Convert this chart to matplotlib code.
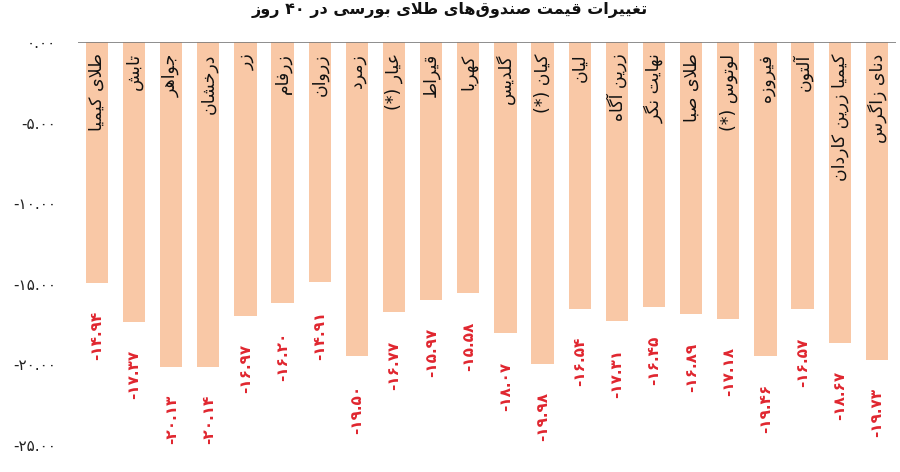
import re
import matplotlib
matplotlib.use("Agg")
import matplotlib.pyplot as plt

# fund names (as written in the chart) and 40-day price change, %
funds = ["طلای کیمیا", "تابش", "جواهر", "درخشان", "زر", "زرفام", "زروان", "زمرد",
         "عیار (*)", "قیراط", "کهربا", "گلدیس", "کیان (*)", "لیان", "زرین آگاه",
         "نهایت نگر", "طلای صبا", "لوتوس (*)", "فیروزه", "آلتون", "کیمیا زرین کاردان",
         "دنای زاگرس"]
changes = [-14.94, -17.37, -20.13, -20.14, -16.97, -16.20, -14.91, -19.50,
           -16.77, -15.97, -15.58, -18.07, -19.98, -16.54, -17.31,
           -16.45, -16.89, -17.18, -19.46, -16.57, -18.67, -19.73]
yticks = [0, -5, -10, -15, -20, -25]
title = "تغییرات قیمت صندوق‌های طلای بورسی در ۴۰ روز"

# --- tiny arabic/persian shaper (matplotlib does no shaping) ---
# letter: (isolated, final, initial, medial); right-joining letters have 2 forms
FORMS = {
    "ا": (0xFE8D, 0xFE8E), "آ": (0xFE81, 0xFE82), "د": (0xFEA9, 0xFEAA),
    "ذ": (0xFEAB, 0xFEAC), "ر": (0xFEAD, 0xFEAE), "ز": (0xFEAF, 0xFEB0),
    "ژ": (0xFB8A, 0xFB8B), "و": (0xFEED, 0xFEEE),
    "ب": (0xFE8F, 0xFE90, 0xFE91, 0xFE92), "پ": (0xFB56, 0xFB57, 0xFB58, 0xFB59),
    "ت": (0xFE95, 0xFE96, 0xFE97, 0xFE98), "ث": (0xFE99, 0xFE9A, 0xFE9B, 0xFE9C),
    "ج": (0xFE9D, 0xFE9E, 0xFE9F, 0xFEA0), "چ": (0xFB7A, 0xFB7B, 0xFB7C, 0xFB7D),
    "ح": (0xFEA1, 0xFEA2, 0xFEA3, 0xFEA4), "خ": (0xFEA5, 0xFEA6, 0xFEA7, 0xFEA8),
    "س": (0xFEB1, 0xFEB2, 0xFEB3, 0xFEB4), "ش": (0xFEB5, 0xFEB6, 0xFEB7, 0xFEB8),
    "ص": (0xFEB9, 0xFEBA, 0xFEBB, 0xFEBC), "ض": (0xFEBD, 0xFEBE, 0xFEBF, 0xFEC0),
    "ط": (0xFEC1, 0xFEC2, 0xFEC3, 0xFEC4), "ظ": (0xFEC5, 0xFEC6, 0xFEC7, 0xFEC8),
    "ع": (0xFEC9, 0xFECA, 0xFECB, 0xFECC), "غ": (0xFECD, 0xFECE, 0xFECF, 0xFED0),
    "ف": (0xFED1, 0xFED2, 0xFED3, 0xFED4), "ق": (0xFED5, 0xFED6, 0xFED7, 0xFED8),
    "ک": (0xFB8E, 0xFB8F, 0xFB90, 0xFB91), "گ": (0xFB92, 0xFB93, 0xFB94, 0xFB95),
    "ل": (0xFEDD, 0xFEDE, 0xFEDF, 0xFEE0), "م": (0xFEE1, 0xFEE2, 0xFEE3, 0xFEE4),
    "ن": (0xFEE5, 0xFEE6, 0xFEE7, 0xFEE8), "ه": (0xFEE9, 0xFEEA, 0xFEEB, 0xFEEC),
    "ی": (0xFBFC, 0xFBFD, 0xFBFE, 0xFBFF),
}
LAM_ALEF = {"ا": (0xFEFB, 0xFEFC), "آ": (0xFEF5, 0xFEF6)}


def dual(c):
    return c in FORMS and len(FORMS[c]) == 4


def shape(s):
    chars = list(s)
    out = []
    i = 0
    while i < len(chars):
        c = chars[i]
        if c not in FORMS:
            if c != "\u200c":
                out.append(c)
            i += 1
            continue
        prev = chars[i - 1] if i > 0 else ""
        joins_prev = dual(prev)
        if c == "ل" and i + 1 < len(chars) and chars[i + 1] in LAM_ALEF:
            f = LAM_ALEF[chars[i + 1]]
            out.append(chr(f[1] if joins_prev else f[0]))
            i += 2
            continue
        nxt = chars[i + 1] if i + 1 < len(chars) else ""
        joins_next = dual(c) and nxt in FORMS
        f = FORMS[c]
        if joins_prev and joins_next:
            out.append(chr(f[3]))
        elif joins_prev:
            out.append(chr(f[1]))
        elif joins_next:
            out.append(chr(f[2]))
        else:
            out.append(chr(f[0]))
        i += 1
    vis = "".join(out)[::-1]
    vis = vis.translate(str.maketrans("()", ")("))
    # digit runs keep their own order
    return re.sub(r"[0-9۰-۹.]{2,}", lambda m: m.group(0)[::-1], vis)


FA_DIGITS = str.maketrans("0123456789", "۰۱۲۳۴۵۶۷۸۹")


def fa_num(v):
    return f"{v:.2f}".translate(FA_DIGITS)


plt.rcParams["font.family"] = ["DejaVu Sans"]

fig = plt.figure(figsize=(9, 4.72), dpi=100)
ax = fig.add_axes([0.087, 0.057, 0.908, 0.854])

x = range(len(funds))
ax.bar(x, changes, width=0.6, color="#F9C8A6")
ax.axhline(0, color="#7a7a7a", lw=1.2)

for i, (name, v) in enumerate(zip(funds, changes)):
    ax.text(i, -0.7, shape(name), rotation=90, ha="center", va="top",
            fontsize=12.5, color="#111111")
    ax.text(i, v - 1.75, fa_num(v), rotation=90, ha="center", va="top",
            fontsize=11, fontweight="bold", color="#E0262F")

ax.set_xlim(-0.5, len(funds) - 0.5)
ax.set_ylim(-25, 0)
ax.set_xticks([])
ax.set_yticks(yticks)
ax.set_yticklabels([fa_num(t) for t in yticks], fontsize=11, color="#222222")
ax.tick_params(axis="y", length=0, pad=16)
for sp in ax.spines.values():
    sp.set_visible(False)

fig.text(0.5, 0.995, shape(title), ha="center", va="top",
         fontsize=11.5, fontweight="bold", color="#111111")

fig.savefig("out.png", dpi=100)
